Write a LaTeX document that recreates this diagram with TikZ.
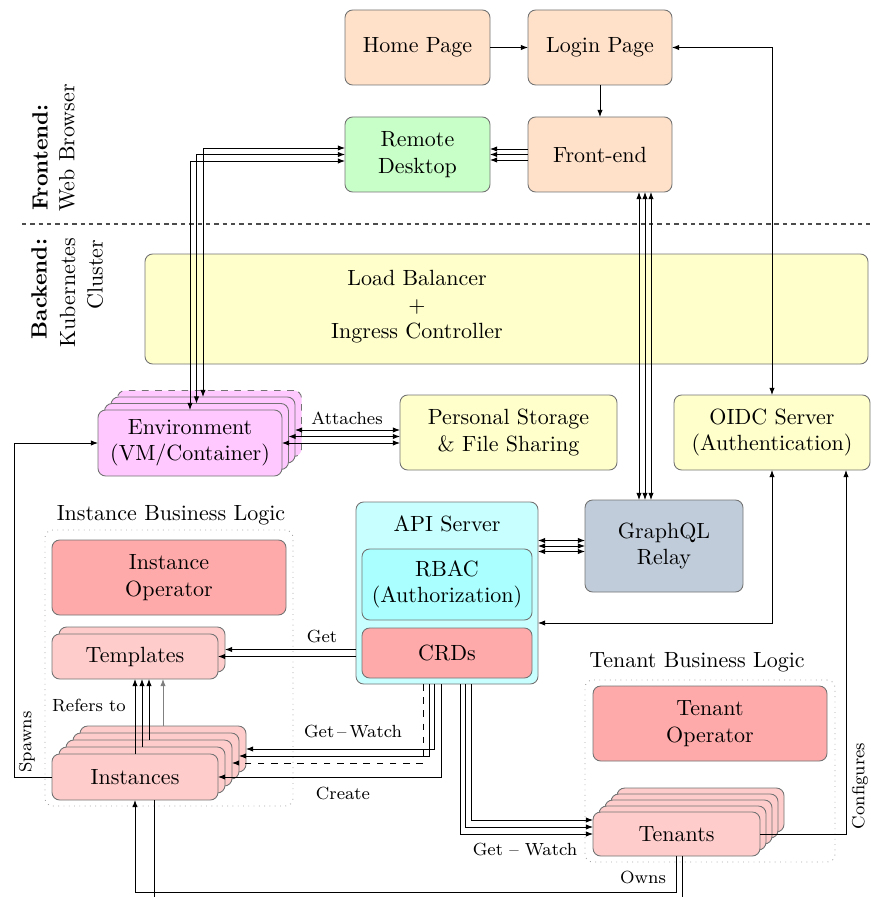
\documentclass[tikz,border=0pt]{standalone}
\usetikzlibrary{calc,arrows.meta}
\definecolor{peachc}{RGB}{255,224,200}
\definecolor{greenc}{RGB}{200,255,200}
\definecolor{yellowc}{RGB}{255,255,204}
\definecolor{envc}{RGB}{255,200,255}
\definecolor{apic}{RGB}{200,255,255}
\definecolor{rbacc}{RGB}{170,255,255}
\definecolor{salmonc}{RGB}{255,170,170}
\definecolor{pinkc}{RGB}{255,204,204}
\definecolor{gqlc}{RGB}{192,204,218}
\begin{document}
\begin{tikzpicture}[x=0.4545pt, y=-0.4545pt,
  every node/.style={outer sep=0pt},
  box/.style={draw=black!55, rounded corners=3.5pt, inner sep=0pt, align=center},
  sz/.style 2 args={minimum width=#1*0.4545pt, minimum height=#2*0.4545pt},
  peach/.style={box, fill=peachc},
  yel/.style={box, fill=yellowc},
  envs/.style={box, fill=envc},
  salm/.style={box, fill=salmonc},
  pinks/.style={box, fill=pinkc},
  group/.style={draw=black!35, dotted, rounded corners=3.5pt, inner sep=0pt},
  arr/.style={-{Latex[length=3.2pt,width=2.4pt]}},
  arr2/.style={{Latex[length=3.2pt,width=2.4pt]}-{Latex[length=3.2pt,width=2.4pt]}},
  lbl/.style={font=\footnotesize, inner sep=1pt},
  side/.style={rotate=90, inner sep=0pt},
]
\useasboundingbox (0,0) rectangle (870,897);

% section labels
\node[side, anchor=west, font=\bfseries] (fl1) at (40,211) {Frontend:};
\node[side, anchor=west] (fl2) at (67,212) {Web Browser};
\node[side, anchor=east, font=\bfseries] (bl1) at (39,239) {Backend:};
\node[side, anchor=east] (bl2) at (67.5,238) {Kubernetes};
\node[side, anchor=east] (bl3) at (95,240) {Cluster};
\coordinate (sepL) at (22,224);
\coordinate (sepR) at (870,224);
\draw[black!70, semithick, dash pattern=on 2pt off 1.8pt] (sepL) -- (sepR);

% frontend
\node[peach, sz={145}{75}] (home) at (417.5,47.5) {Home Page};
\node[peach, sz={144}{75}] (login) at (600,47.5) {Login Page};
\node[box, fill=greenc, sz={145}{75}] (rd) at (417.5,154.5) {Remote\\Desktop};
\node[peach, sz={144}{75}] (fe) at (600,154.5) {Front-end};

% load balancer
\node[yel, sz={723}{110}] (lb) at (506.5,309) {};
\node[align=center, inner sep=0pt] (lbt) at (417,307) {Load Balancer\\+\\Ingress Controller};

% environment (stacked)
\node[envs, sz={184}{66}, dashed] (env3) at (209.5,423.5) {};
\node[envs, sz={184}{66}] (env2) at (203,430) {};
\node[envs, sz={184}{66}] (env1) at (196.5,436.5) {};
\node[envs, sz={184}{66}] (env) at (190,443) {Environment\\(VM/Container)};

\node[yel, sz={217}{75}] (ps) at (508.5,432.5) {Personal Storage\\\& File Sharing};
\node[yel, sz={196}{75}] (oidc) at (772,432.5) {OIDC Server\\(Authentication)};

% API server
\node[box, fill=apic, sz={182}{182}] (api) at (447,593) {};
\node[inner sep=0pt] (apit) at (447,524) {API Server};
\node[box, fill=rbacc, sz={170}{71}] (rbac) at (447,584.5) {RBAC\\(Authorization)};
\node[salm, sz={170}{50}] (crds) at (447,653) {CRDs};

\node[box, fill=gqlc, sz={158}{92}] (gql) at (664,546) {GraphQL\\Relay};

% instance business logic
\node[group, sz={248}{276}] (ibl) at (169,668) {};
\node[inner sep=0pt] (ibll) at (171,515) {Instance Business Logic};
\node[salm, sz={234}{75}] (iop) at (169,577.5) {Instance\\Operator};
\node[pinks, sz={166}{45}] (tmpl1) at (142,649.5) {};
\node[pinks, sz={166}{45}] (tmpl) at (135,656.5) {Templates};
\node[pinks, sz={166}{46}] (inst4) at (163,749) {};
\node[pinks, sz={166}{46}] (inst3) at (156,756) {};
\node[pinks, sz={166}{46}] (inst2) at (149,763) {};
\node[pinks, sz={166}{46}] (inst1) at (142,770) {};
\node[pinks, sz={166}{46}] (inst) at (135,777) {Instances};

% tenant business logic
\node[group, sz={250}{182}] (tbl) at (710,771) {};
\node[inner sep=0pt] (tbll) at (697,662) {Tenant Business Logic};
\node[salm, sz={234}{75}] (top) at (710,723.5) {Tenant\\Operator};
\node[pinks, sz={167}{44}] (ten4) at (700.5,810) {};
\node[pinks, sz={167}{44}] (ten3) at (694.5,816) {};
\node[pinks, sz={167}{44}] (ten2) at (688.5,822) {};
\node[pinks, sz={167}{44}] (ten1) at (682.5,828) {};
\node[pinks, sz={167}{44}] (ten) at (676.5,834) {Tenants};

% ---------- connectors ----------
\draw[arr] (home) -- (login);
\draw[arr] (login) -- (fe);
\draw[arr2] (login.east) -| (oidc.north);
\foreach \d in {-5.5,0,5.5}
  \draw[arr] ($(fe.west)+(0,\d)$) coordinate (t) -- (t -| rd.east);
\draw[arr2] ($(rd.west)+(0,-6.5)$) -| (env2.north);
\draw[arr2] (rd.west) -| (env1.north);
\draw[arr2] ($(rd.west)+(0,6.5)$) -| (env.north);
\draw[arr2] (env.east) -- (env.east -| ps.west);
\draw[arr2] (env1.east) -- (env1.east -| ps.west);
\draw[arr2] (env2.east) -- (env2.east -| ps.west);
\node[lbl] (lat) at (347,418) {Attaches};
\foreach \d in {39,45,51}
  \draw[arr2] ($(fe.south)+(\d,0)$) coordinate (t) -- (t |- gql.north);
\foreach \d in {-5.5,0,5.5}
  \draw[arr2] ($(gql.west)+(0,\d)$) coordinate (t) -- (t -| api.east);
\draw[arr2] ($(api.east)+(0,30)$) -| (oidc.south);
\draw[arr] (ten.east) -| ($(oidc.south)+(74,0)$);
\node[lbl, rotate=90] (lcf) at (860,786) {Configures};

% Get
\draw[arr] (api.west |- tmpl.east) -- (tmpl.east);
\draw[arr] (api.west |- tmpl1.east) -- (tmpl1.east);
\node[lbl] (lget) at (322,636) {Get};
% Get - Watch (instances)
\draw[arr] ($(api.south)+(-13,0)$) |- (inst4.east);
\draw[arr] ($(api.south)+(-18,0)$) |- (inst3.east);
\draw[arr, dashed] ($(api.south)+(-24,0)$) |- (inst2.east);
\node[lbl] (lgw1) at (353,731) {Get\,--\,Watch};
% Create
\draw[arr] ($(api.south)+(-6,0)$) |- (inst.east);
\node[lbl] (lcr) at (343,793) {Create};
% Get - Watch (tenants)
\draw[arr] ($(api.south)+(13,0)$) |- (ten.west);
\draw[arr] ($(api.south)+(18,0)$) |- ($(ten.west)+(0,-7)$);
\draw[arr] ($(api.south)+(24,0)$) |- ($(ten.west)+(0,-14)$);
\node[lbl] (lgw2) at (525,849) {Get -- Watch};
% Refers to
\draw[arr] (inst.north) -- (inst.north |- tmpl.south);
\draw[arr] (inst1.north) -- (inst1.north |- tmpl.south);
\draw[arr] (inst2.north) -- (inst2.north |- tmpl.south);
\draw[arr, black!50] (inst4.north) -- (inst4.north |- tmpl.south);
\node[lbl] (lref) at (89,705) {Refers to};
% Spawns
\draw[arr] (inst.west) -- ++(-38,0) |- (env.west);
\node[lbl, rotate=90] (lsp) at (27,742) {Spawns};
% Owns
\draw[arr] (ten.south) -- ($(ten.south)+(0,36)$) -| (inst.south);
\draw ($(inst.south)+(19,0)$) -- ++(0,103) -| ($(ten.south)+(6,0)$);
\node[lbl] (lown) at (643,877) {Owns};
\end{tikzpicture}
\end{document}
